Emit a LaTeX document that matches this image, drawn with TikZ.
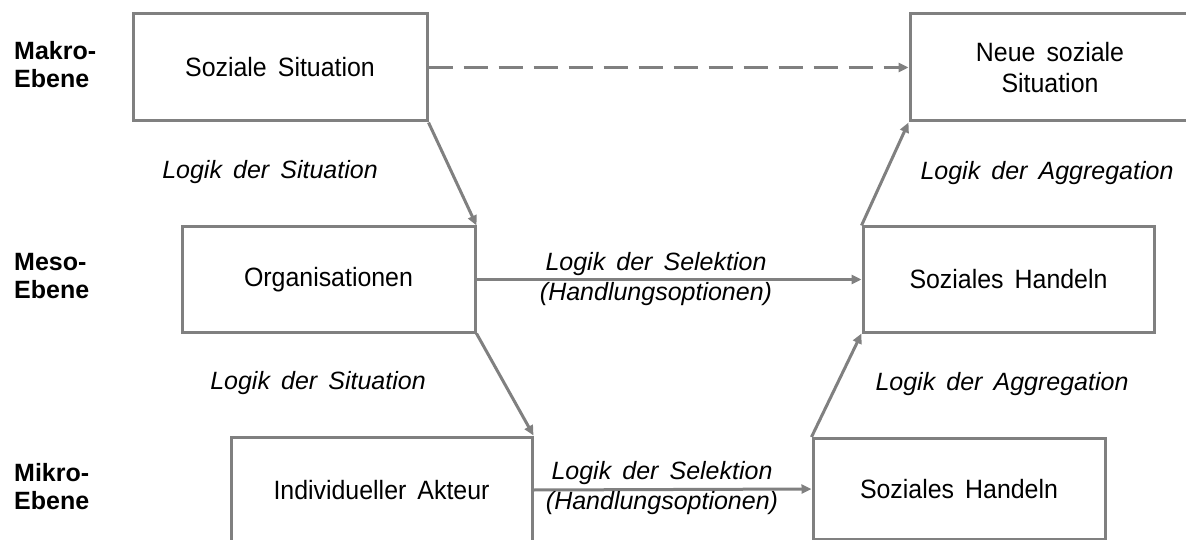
\documentclass[tikz,border=0pt]{standalone}
\usepackage{fontspec}
\setmainfont[WordSpace=1.6]{Liberation Sans}
\newfontfamily\boxfont[FakeStretch=0.94, WordSpace=1.6]{Liberation Sans}
\usetikzlibrary{arrows.meta}
\definecolor{linegray}{RGB}{128,128,128}
\begin{document}
\begin{tikzpicture}[x=1pt,y=-1pt,
  every node/.style={font=\fontsize{25}{30}\selectfont, inner sep=0pt},
  box/.style={draw=linegray, line width=3pt, rectangle, align=center,
    font=\boxfont\fontsize{26.5}{31}\selectfont},
  link/.style={draw=linegray, line width=3pt, -{Triangle[length=10pt,width=9pt]}},
  flowlabel/.style={font=\fontsize{25}{30}\selectfont\itshape, align=center},
  levellabel/.style={font=\fontsize{25}{28}\selectfont\bfseries, align=left, anchor=west}]
  \clip (0,0) rectangle (1186,540);
  \fill[white] (0,0) rectangle (1186,540);

  % level names
  \node[levellabel] (makro) at (14,65) {Makro-\\Ebene};
  \node[levellabel] (meso) at (14,276) {Meso-\\Ebene};
  \node[levellabel] (mikro) at (14,487) {Mikro-\\Ebene};

  % boxes
  \node[box, minimum width=294pt, minimum height=107pt] (sit) at (280,67.5) {Soziale Situation};
  \node[box, minimum width=280pt, minimum height=107pt] (neue) at (1050,67.5) {Neue soziale\\Situation};
  \node[box, minimum width=293pt, minimum height=105pt] (org) at (328.5,279.5) {Organisationen};
  \node[box, minimum width=291pt, minimum height=105pt] (mesohand) at (1008.5,279.5) {Soziales Handeln};
  \node[box, minimum width=301pt, minimum height=106pt] (akteur) at (381.5,490) {Individueller Akteur};
  \node[box, minimum width=292pt, minimum height=101pt] (mikrohand) at (959,489) {Soziales Handeln};

  % connections
  \draw[link, dash pattern=on 24pt off 11pt] (sit.east) -- (neue.west);
  \draw[link] (sit.south east) -- (org.north east);
  \draw[link] (org.south east) -- (akteur.north east);
  \draw[link] (org.east) -- (mesohand.west);
  \draw[link] (akteur.east) -- (mikrohand.west);
  \draw[link] (mikrohand.north west) -- (mesohand.south west);
  \draw[link] (mesohand.north west) -- (neue.south west);

  % flow labels
  \node[flowlabel] (ls1) at (270,172) {Logik der Situation};
  \node[flowlabel] (ls2) at (318,383) {Logik der Situation};
  \node[flowlabel] (la1) at (1047,173) {Logik der Aggregation};
  \node[flowlabel] (la2) at (1002,384) {Logik der Aggregation};
  \node[flowlabel] (sel1) at (656,279) {Logik der Selektion\\(Handlungsoptionen)};
  \node[flowlabel] (sel2) at (662,488) {Logik der Selektion\\(Handlungsoptionen)};
\end{tikzpicture}
\end{document}
